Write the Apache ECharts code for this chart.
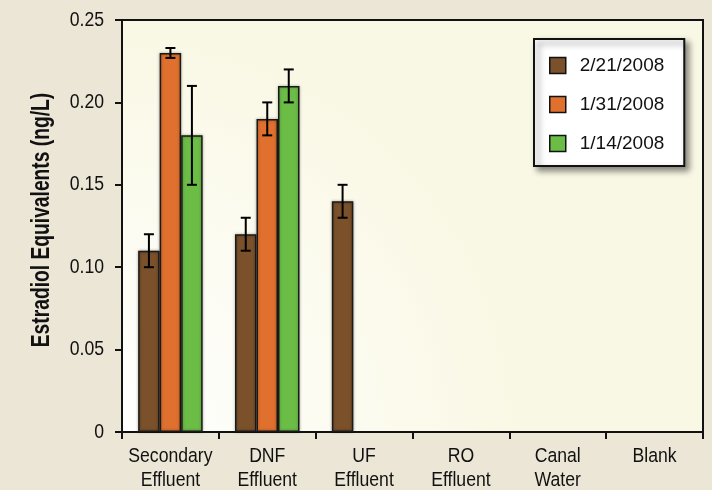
<!DOCTYPE html>
<html>
<head>
<meta charset="utf-8">
<script src="https://cdn.jsdelivr.net/npm/echarts@6/dist/echarts.min.js"></script>
<style>
  html, body { margin: 0; padding: 0; background: #ece6d7; }
  #chart { width: 712px; height: 490px; }
</style>
</head>
<body>
<div id="chart"></div>
<script>
// Sampling sites (two-line labels)
const categories = ['Secondary\nEffluent', 'DNF\nEffluent', 'UF\nEffluent', 'RO\nEffluent', 'Canal\nWater', 'Blank'];

// Sampling dates
const seriesNames = ['2/21/2008', '1/31/2008', '1/14/2008'];

// Estradiol equivalents (ng/L); null = not detected / not sampled
const feb21 = [0.11, 0.12, 0.14, null, null, null];
const jan31 = [0.23, 0.19, null, null, null, null];
const jan14 = [0.18, 0.21, null, null, null, null];

// Error bar half-widths (ng/L)
const feb21Err = [0.01, 0.01, 0.01, null, null, null];
const jan31Err = [0.003, 0.01, null, null, null, null];
const jan14Err = [0.03, 0.01, null, null, null, null];

const yTicks = [0, 0.05, 0.10, 0.15, 0.20, 0.25];
const yTickLabels = ['0', '0.05', '0.10', '0.15', '0.20', '0.25'];
const yTitle = 'Estradiol Equivalents (ng/L)';

const colors = ['#7a512b', '#e0702e', '#6cbd46'];
const values = [feb21, jan31, jan14];
const errors = [feb21Err, jan31Err, jan14Err];

const BAR_W = 21.5;
const SANS = '"Liberation Sans", Arial, Helvetica, sans-serif';
// condensed look: regular sans squeezed horizontally
const LABEL_SIZE = 20.5;
const LABEL_SQUEEZE = 0.86;

const chart = echarts.init(document.getElementById('chart'));

const barSeries = values.map((vals, i) => ({
  name: seriesNames[i],
  type: 'bar',
  data: vals.map(v => (v == null ? '-' : v)),
  barWidth: BAR_W,
  barGap: '0%',
  itemStyle: {
    color: colors[i],
    borderColor: '#1a1a1a',
    borderWidth: 1.5,
    shadowBlur: 3,
    shadowColor: 'rgba(0,0,0,0.35)'
  },
  emphasis: { disabled: true },
  z: 2
}));

const errSeries = values.map((vals, i) => ({
  type: 'custom',
  name: seriesNames[i] + ' error',
  data: vals.map((v, k) => [k, v, errors[i][k]]).filter(d => d[1] != null && d[2] != null),
  renderItem: function (params, api) {
    const k = api.value(0);
    const v = api.value(1);
    const e = api.value(2);
    const offset = (i - 1) * BAR_W;
    const hi = api.coord([k, v + e]);
    const lo = api.coord([k, v - e]);
    const x = hi[0] + offset;
    const cap = 5;
    const style = { stroke: '#000', lineWidth: 2, fill: null };
    return {
      type: 'group',
      children: [
        { type: 'line', shape: { x1: x, y1: hi[1], x2: x, y2: lo[1] }, style },
        { type: 'line', shape: { x1: x - cap, y1: hi[1], x2: x + cap, y2: hi[1] }, style },
        { type: 'line', shape: { x1: x - cap, y1: lo[1], x2: x + cap, y2: lo[1] }, style }
      ]
    };
  },
  z: 5,
  silent: true
}));

chart.setOption({
  animation: false,
  backgroundColor: '#ece6d7',
  grid: {
    left: 122, right: 9, top: 20, bottom: 58,
    show: true,
    borderColor: '#111',
    borderWidth: 2,
    backgroundColor: new echarts.graphic.RadialGradient(0, 1, 1.0, [
      { offset: 0, color: '#ffffff' },
      { offset: 1, color: '#f9f8e4' }
    ])
  },
  legend: {
    data: seriesNames,
    orient: 'vertical',
    left: 534,
    top: 39,
    itemWidth: 16,
    itemHeight: 16,
    itemGap: 20,
    padding: [17, 20, 13, 15],
    icon: 'rect',
    backgroundColor: '#ffffff',
    borderColor: '#111',
    borderWidth: 2,
    borderRadius: 0,
    shadowBlur: 6,
    shadowOffsetX: 4,
    shadowOffsetY: 4,
    shadowColor: 'rgba(0,0,0,0.45)',
    itemStyle: { borderColor: '#111', borderWidth: 1.5 },
    textStyle: {
      fontFamily: SANS,
      fontSize: 19,
      color: '#111',
      padding: [0, 0, 0, 9]
    },
    selectedMode: false
  },
  xAxis: {
    type: 'category',
    data: categories,
    axisLine: { lineStyle: { color: '#111', width: 2 } },
    axisTick: { show: true, length: 7, interval: 0, lineStyle: { color: '#111', width: 2 } },
    axisLabel: { show: false },
    splitLine: { show: false }
  },
  yAxis: {
    type: 'value',
    min: yTicks[0],
    max: yTicks[yTicks.length - 1],
    interval: 0.05,
    axisLine: { show: true, lineStyle: { color: '#111', width: 2 } },
    axisTick: { show: true, length: 7, lineStyle: { color: '#111', width: 2 } },
    axisLabel: { show: false },
    splitLine: { show: false }
  },
  series: barSeries.concat(errSeries)
});

// Axis labels and title in a condensed style, placed from the axes' own scales
function drawLabels() {
  const xPx = k => chart.convertToPixel({ xAxisIndex: 0 }, k);
  const yPx = v => chart.convertToPixel({ yAxisIndex: 0 }, v);
  const band = xPx(1) - xPx(0);
  const axisX = xPx(0) - band / 2;
  const axisY = yPx(0);
  const top = yPx(yTicks[yTicks.length - 1]);

  const els = [];
  categories.forEach((c, k) => {
    c.split('\n').forEach((line, j) => {
      els.push({
        type: 'text',
        x: xPx(k),
        y: axisY + 24 + j * 24,
        scaleX: LABEL_SQUEEZE,
        silent: true,
        style: {
          text: line,
          fontFamily: SANS,
          fontSize: LABEL_SIZE,
          fill: '#111',
          align: 'center',
          verticalAlign: 'middle'
        }
      });
    });
  });
  yTicks.forEach((v, i) => {
    els.push({
      type: 'text',
      x: axisX - 18,
      y: yPx(v),
      scaleX: LABEL_SQUEEZE,
      silent: true,
      style: {
        text: yTickLabels[i],
        fontFamily: SANS,
        fontSize: LABEL_SIZE,
        fill: '#111',
        align: 'right',
        verticalAlign: 'middle'
      }
    });
  });
  els.push({
    type: 'text',
    x: axisX - 80,
    y: (axisY + top) / 2 - 6,
    rotation: Math.PI / 2,
    scaleX: 0.77,
    silent: true,
    style: {
      text: yTitle,
      fontFamily: SANS,
      fontWeight: 'bold',
      fontSize: 25,
      fill: '#111',
      align: 'center',
      verticalAlign: 'middle'
    }
  });
  chart.setOption({ graphic: { elements: els } });
}
drawLabels();
</script>
</body>
</html>
